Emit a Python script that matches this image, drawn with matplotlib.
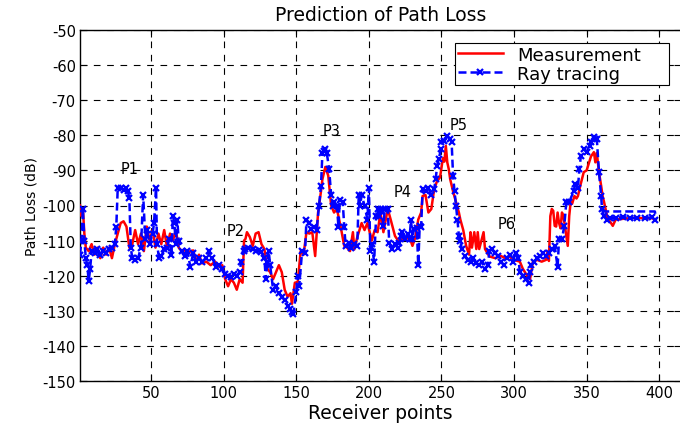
import matplotlib
matplotlib.use("Agg")
import matplotlib.pyplot as plt

# Measurement (red)
meas_x = [1, 2, 3, 4, 5, 7, 9, 11, 13, 15, 17, 19, 21, 23, 25, 27, 29, 31, 33, 35, 37, 39, 41, 43, 45,
          47, 49, 51, 53, 55, 57, 59, 61, 63, 65, 67, 69, 71, 73, 75, 77, 79, 81, 83, 85, 88, 91, 94, 97,
          99, 101, 103, 105, 107, 109, 111, 113, 114, 115, 116, 118, 120, 122, 124, 126, 128, 130, 132,
          134, 136, 138, 140, 142, 144, 146, 147, 149, 151, 153, 155, 157, 159, 161, 163, 165, 167, 168,
          170, 172, 174, 176, 178, 180, 181, 183, 185, 187, 189, 190, 192, 195, 197, 199, 202, 204, 206,
          208, 210, 213, 215, 218, 221, 223, 226, 228, 230, 232, 234, 236, 237, 239, 241, 243, 245, 247,
          249, 251, 252, 253, 254, 255, 256, 258, 260, 262, 263, 265, 267, 269, 270, 271, 272.6, 274, 275,
          276, 279, 280, 283, 287, 291, 294, 297, 300, 304, 306, 309, 311, 313, 316, 319, 322, 323, 324,
          325, 326, 327, 328, 329, 330, 331, 332, 333, 334, 336, 337, 338, 339, 340, 341.6, 343, 344,
          345.6, 348, 350, 353, 355, 356, 357, 358.5, 360, 361, 362, 363.6, 364.6, 366, 368, 370, 375,
          380, 385, 390, 395, 397]
meas_y = [-100, -103, -101, -108, -112, -113, -111, -114, -112, -115, -112, -114, -112, -115, -111, -108,
          -105, -104.5, -106, -112, -111, -107, -111, -108, -113, -106, -110, -107, -112, -108, -111,
          -107, -112, -108, -110, -107, -112, -113, -112.5, -114, -113, -112.8, -116, -114, -116.5, -116,
          -117, -116, -117.5, -117, -121, -123, -121, -122, -124, -121, -122, -110, -109.5, -107.6, -109,
          -111.5, -108, -107.6, -111, -112.4, -118, -119, -121, -119, -117, -119, -124, -126, -125, -128,
          -122, -121.8, -113, -114, -107.6, -108, -107.6, -114.4, -102, -96, -92.5, -89, -91.5, -100,
          -102, -101, -105, -107, -111.5, -112, -113, -107.6, -112.5, -109, -105, -107, -105, -110, -107,
          -107.6, -102, -107.6, -101, -104, -108.7, -110.5, -109.5, -109.5, -109, -111.5, -109, -104,
          -102, -97.3, -97, -102, -101, -95.3, -93, -92, -86.5, -87.5, -83, -87.7, -89.6, -92.5, -96,
          -99, -102, -104, -107, -111.5, -114, -107.6, -112, -107.6, -112.4, -107.6, -112.4, -107.6,
          -112.4, -114.5, -115, -114.4, -115, -114.6, -115.5, -116, -118, -120, -121, -116, -115.5, -116,
          -115.5, -113.3, -115.8, -103, -101, -101.5, -105.8, -106, -102, -105, -106.5, -102, -103,
          -108.7, -111.5, -103, -99, -99.5, -97.3, -98, -97.3, -94.4, -90.5, -90, -86, -84.8, -87.7, -85,
          -90.5, -94.4, -97.3, -99, -102, -104, -104.5, -105.8, -104, -103.8, -103.6, -103.5, -103.7,
          -103.6, -104]

# Ray tracing (blue)
ray_x = [1, 2, 3, 4, 5, 6, 7, 8, 9, 11, 13, 15, 17, 19, 21, 23, 25, 26, 27, 29, 31, 33, 34, 35, 36, 37,
         39, 41, 43, 44.5, 46, 47, 49, 51, 52, 53.4, 54, 55.5, 57, 59, 61, 62.4, 64, 65, 66, 67, 68, 69,
         71, 73, 75, 77, 79, 81, 83, 85, 88, 90, 92, 95, 97, 99, 101, 103, 105, 107, 109, 111, 112, 114,
         115, 117, 120, 122, 124, 126, 128, 129, 130, 131, 132, 134, 136, 138, 140, 142, 144, 146, 147,
         148, 150, 151, 152, 154, 156, 157, 159, 160, 162, 164, 165.7, 167, 168, 169, 170, 171, 172.6,
         174, 175, 176, 178, 179, 180, 182, 183, 184, 186, 188, 190, 192, 193, 194, 195, 197, 199, 200,
         201, 202, 203.6, 205, 206, 207, 208, 209, 210, 211, 213, 214, 216, 218, 220, 221, 222, 223, 225,
         227, 228, 229, 230, 231, 233, 234, 235, 236, 237, 239, 241, 243, 245, 246, 247, 248, 249.7, 250,
         252, 254, 256, 257, 258, 259, 260, 261, 262, 263, 264, 266, 268, 270, 272, 274, 276, 278, 280,
         282, 283, 285, 287, 289, 291, 293, 295, 297, 299, 301, 303, 304, 306, 308, 310, 311, 312, 314,
         316, 318, 320, 322, 324, 326, 328, 330, 331, 333, 334.6, 336, 338, 341, 342, 344, 345, 346, 348,
         350, 352, 353, 355, 356, 357, 358.5, 360, 360.6, 362, 364, 366, 370, 375, 380, 385, 390, 395, 397]
ray_y = [-114, -110, -101, -110, -115, -117, -121.5, -118, -113, -113.5, -112.5, -114, -113, -113.5,
         -112.5, -112, -111, -106, -95, -95, -95.5, -95, -96, -98, -112, -115, -115.5, -115, -112, -97,
         -109.5, -107, -111, -108, -105, -95, -111, -115, -114.5, -112.5, -112, -109.5, -114, -103, -105,
         -111, -104, -110, -113, -114.5, -113, -117.5, -113.5, -116, -115, -116, -115, -113, -115, -117.5,
         -117, -118, -119.5, -120, -120.5, -119.5, -120, -119, -116, -113, -112.4, -112, -112.5, -113,
         -112.8, -113.3, -115, -121, -116, -113, -117, -124, -123, -125, -126, -127, -128.6, -129.5,
         -130.4, -131, -124.6, -120, -123, -113, -113.5, -104, -105, -106.7, -106, -107, -100, -94.4, -85,
         -84.5, -84, -85, -89.6, -97, -100, -99, -100, -106, -98.5, -99, -106, -111.5, -110.6, -112, -111,
         -111.5, -97, -100, -97, -100, -104, -95, -113, -111, -116, -103, -101, -103, -101, -101.5, -105.8,
         -101, -101, -110.6, -112.4, -111, -112, -110.6, -108.7, -107.6, -109.5, -108, -109.5, -104,
         -109.5, -106.7, -106.5, -117, -105.8, -106, -95.3, -96, -95, -97, -95.3, -92.5, -88.7, -86.8, -84,
         -82, -81.5, -80.2, -81, -82, -91.6, -96, -100, -104, -108.7, -110, -112.4, -114.4, -115.5, -116,
         -115, -116.5, -117, -116, -118, -117, -113, -112.4, -113.5, -114.4, -116, -117, -115, -114, -116,
         -113.5, -115, -119, -120, -121, -122, -119, -117, -116, -115, -114.5, -113.5, -114.4, -113.5,
         -112.4, -111.5, -117.6, -109.5, -109.5, -105.8, -99, -99, -96, -94, -95, -89.6, -86, -84, -84.8,
         -83, -82, -80.5, -81, -81, -90.5, -97.3, -101, -103, -104, -103.5, -103.5, -103.3, -103.5, -103.6,
         -103.5, -103.4, -104]

# Upper dashed trace of the ray-tracing line at the tail
ray_tail_x = [360.6, 363, 397, 398]
ray_tail_y = [-101, -101.7, -101.7, -104]

# Peak labels
peak_labels = ["P1", "P2", "P3", "P4", "P5", "P6"]
peak_x = [35, 108, 174, 223, 262, 295]
peak_y = [-89.5, -107, -78.5, -96, -77, -105]

xticks = [50, 100, 150, 200, 250, 300, 350, 400]
yticks = list(range(-150, -40, 10))

plt.rcParams['font.family'] = ['DejaVu Sans']
plt.rcParams['axes.unicode_minus'] = False

fig = plt.figure(figsize=(6.8, 4.27), dpi=100)
ax = fig.add_axes([80 / 680, 45 / 427, 601 / 680, 351 / 427])

dash = (0, (3.2, 1.6))
ax.plot(meas_x, meas_y, color='#ff0000', lw=1.8, label='Measurement', zorder=3)
ax.plot(ray_x, ray_y, color='#0000ff', lw=1.8, ls=dash, marker='x', ms=4.5, mew=1.6,
        label='Ray tracing', zorder=4)
ax.plot(ray_tail_x, ray_tail_y, color='#0000ff', lw=1.8, ls=dash, zorder=4)

for t, x, y in zip(peak_labels, peak_x, peak_y):
    ax.text(x, y, t, fontsize=10.5, ha='center', va='center', zorder=5)

ax.set_xlim(1, 415)
ax.set_ylim(-150, -50)
ax.set_xticks(xticks)
ax.set_yticks(yticks)
ax.tick_params(direction='in', length=5, labelsize=10.5, top=True, right=True, width=0.8, pad=3)
ax.grid(True, color='black', ls=(0, (6, 6)), lw=0.8)
ax.set_axisbelow(True)
for s in ax.spines.values():
    s.set_linewidth(1.0)

ax.set_title('Prediction of Path Loss', fontsize=13.5, pad=7)
ax.set_xlabel('Receiver points', fontsize=13.5, labelpad=2)
ax.set_ylabel('Path Loss (dB)', fontsize=10, labelpad=3)

leg = ax.legend(loc='upper right', fontsize=13, frameon=True, fancybox=False, edgecolor='black',
                framealpha=1, borderpad=0.15, handlelength=2.5, handletextpad=0.8, labelspacing=0.05,
                numpoints=1, mode='expand', bbox_to_anchor=(0.624, 0.5, 0.356, 0.463), borderaxespad=0)
leg.get_frame().set_linewidth(0.8)

fig.savefig('out.png', dpi=100)
